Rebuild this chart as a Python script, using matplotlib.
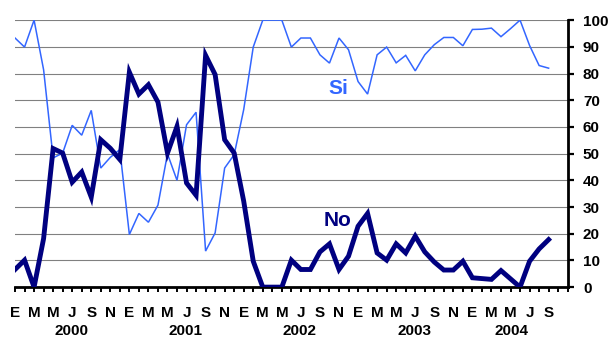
import matplotlib
matplotlib.use("Agg")
import matplotlib.pyplot as plt

plt.rcParams['font.family'] = ['Liberation Sans', 'DejaVu Sans']
plt.rcParams['font.weight'] = 'bold'

# Monthly series, Jan 2000 .. Sep 2004
si = [93.3, 89.9, 100, 81.4, 48.4, 50.2, 60.6, 56.9, 66.2, 44.6, 48.6, 51.5,
      19.7, 27.6, 24.3, 30.7, 49.9, 40, 60.8, 65.5, 13.5, 20.3, 44.6, 49.6,
      66.5, 89.9, 100, 100, 100, 89.9, 93.3, 93.3, 87, 83.9, 93.3, 88.9,
      77, 72.3, 87, 89.9, 84, 86.8, 81, 87, 90.8, 93.5, 93.5, 90.4,
      96.5, 96.6, 97, 93.8, 96.8, 100, 90.5, 83, 82]
no = [6.6, 10.1, 0, 18.2, 51.9, 50.2, 39.3, 43.1, 33.7, 55.2, 52, 47.8,
      80.5, 72.3, 75.8, 69.3, 50.2, 60.2, 39, 34.4, 86.8, 79.6, 55.2, 50.2,
      32.2, 9.7, 0, 0, 0, 10.1, 6.6, 6.6, 13.2, 16.2, 6.6, 11.6,
      22.8, 27.6, 12.8, 10.1, 16.2, 12.8, 19.1, 13.2, 9.4, 6.4, 6.4, 9.7,
      3.5, 3.2, 2.9, 6.2, 3.1, 0, 9.7, 14.3, 17.8]
month_letters = ['E', 'F', 'M', 'A', 'M', 'J', 'J', 'A', 'S', 'O', 'N', 'D']
years = ['2000', '2001', '2002', '2003', '2004']
year_pos = [5.9, 17.9, 29.9, 41.9, 52.1]
n_cats = 59  # axis runs Jan 2000 .. Nov 2004

fig = plt.figure(figsize=(6.08, 3.37), dpi=100)
ax = fig.add_axes([0.0247, 0.148, 0.909, 0.7923])

x = list(range(len(si)))
ax.plot(x, si, color='#3366FF', lw=1.1, solid_joinstyle='miter', zorder=3)
ax.plot(x, no, color='#000080', lw=3.5, solid_joinstyle='miter', zorder=4)

ax.set_xlim(0, n_cats - 1)
ax.set_ylim(0, 100)

ax.set_yticks(range(0, 101, 10))
ax.yaxis.grid(True, color='#808080', lw=0.8)
ax.set_axisbelow(True)
ax.yaxis.tick_right()
ax.tick_params(axis='y', direction='out', length=4, width=1.6, pad=7,
               labelsize=11, colors='black')

ticks = list(range(n_cats))
labels = [month_letters[i % 12] if (i % 2 == 0 and i < len(si)) else '' for i in ticks]
ax.set_xticks(ticks)
ax.set_xticklabels(labels)
ax.tick_params(axis='x', direction='out', length=3.5, width=1.4, pad=10,
               labelsize=11)

for s in ['top', 'left']:
    ax.spines[s].set_visible(False)
ax.spines['right'].set_linewidth(2)
ax.spines['bottom'].set_linewidth(2)

for yp, yr in zip(year_pos, years):
    ax.text(yp, -16.3, yr, ha='center', va='center', fontsize=11,
            fontweight='bold', clip_on=False)

ax.text(33.9, 74.3, 'Si', color='#3366FF', fontsize=15, fontweight='bold',
        ha='center', va='center')
ax.text(33.9, 24.9, 'No', color='#000080', fontsize=15, fontweight='bold',
        ha='center', va='center')

fig.savefig('out.png', dpi=100)
